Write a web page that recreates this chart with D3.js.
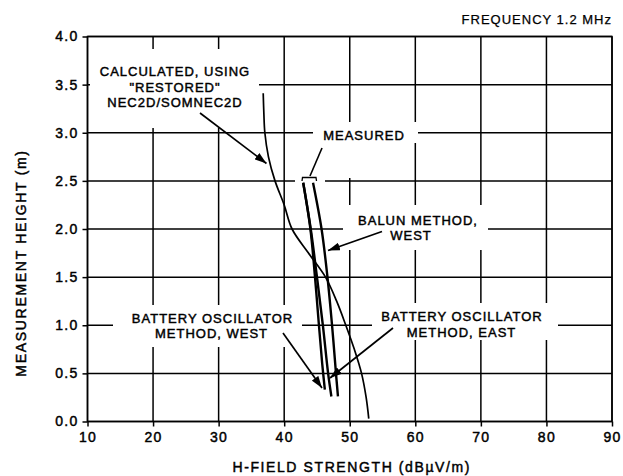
<!DOCTYPE html>
<html><head><meta charset="utf-8">
<script src="https://cdn.jsdelivr.net/npm/d3@7"></script>
<style>
body{margin:0;background:#fff;}
svg{display:block;}
text{font-family:"Liberation Sans",Arial,Helvetica,sans-serif;fill:#000;stroke:#000;stroke-width:0.45px;}
</style></head><body>
<svg id="c" width="623" height="476"></svg>
<script>
// ---- data ----
const xTicks = [10, 20, 30, 40, 50, 60, 70, 80, 90];
const yTicks = [0, 0.5, 1, 1.5, 2, 2.5, 3, 3.5, 4];
const yTickLabels = ["0.0", "0.5", "1.0", "1.5", "2.0", "2.5", "3.0", "3.5", "4.0"];

// calculated (thin line): height (m) and field (dBuV/m)
const calcHeight = [3.41, 3.2, 3.0, 2.75, 2.5, 2.25, 2.0, 1.75, 1.5, 1.25, 1.0, 0.75, 0.5, 0.25, 0.03];
const calcField  = [36.8, 36.9, 37.05, 37.6, 38.6, 40.0, 41.2, 43.7, 46.3, 48.0, 49.4, 50.7, 51.8, 52.5, 52.9];

// measured, battery oscillator method, west
const bowHeight = [2.48, 2.0, 1.5, 1.0, 0.6, 0.33];
const bowField  = [42.9, 44.0, 44.7, 45.3, 45.8, 46.2];
// measured, battery oscillator method, east
const boeHeight = [2.48, 2.0, 1.5, 1.0, 0.5, 0.26];
const boeField  = [42.9, 44.05, 45.0, 45.9, 46.7, 47.2];
// measured, balun method, west
const balHeight = [2.48, 2.0, 1.5, 1.0, 0.5, 0.26];
const balField  = [44.4, 45.7, 46.6, 47.3, 47.9, 48.2];

// ---- layout ----
const svg = d3.select("#c");
const x = d3.scaleLinear().domain([10, 90]).range([87.5, 612]);
const y = d3.scaleLinear().domain([0, 4]).range([421.5, 36.5]);
const ix = x.invert, iy = y.invert;

// grid
const grid = svg.append("g").attr("stroke", "#000").attr("stroke-width", 1.5);
grid.selectAll("line.h").data(yTicks).join("line")
  .attr("x1", x(10)).attr("x2", x(90)).attr("y1", d => y(d)).attr("y2", d => y(d));
grid.selectAll("line.v").data(xTicks).join("line")
  .attr("y1", y(0)).attr("y2", y(4)).attr("x1", d => x(d)).attr("x2", d => x(d));

// masks (label gaps in the grid)
const gaps = [
  [90, 49, 259, 128],
  [313, 122, 418, 143],
  [344, 122, 356, 178],
  [295, 174, 325, 186],
  [343, 205, 488, 250],
  [113, 305, 302, 347],
  [372, 303, 558, 340]
];
svg.append("g").selectAll("rect").data(gaps).join("rect")
  .attr("x", d => x(ix(d[0]))).attr("y", d => y(iy(d[1])))
  .attr("width", d => x(ix(d[2])) - x(ix(d[0])))
  .attr("height", d => y(iy(d[3])) - y(iy(d[1])))
  .attr("fill", "#fff");

// axes
const xAxis = d3.axisBottom(x).tickValues(xTicks).tickSize(5).tickPadding(6).tickFormat(d3.format("d"));
const yAxis = d3.axisLeft(y).tickValues(yTicks).tickSize(5).tickPadding(4).tickFormat((d, i) => yTickLabels[i]);
const gx = svg.append("g").attr("transform", `translate(0,${y(0)})`).call(xAxis);
const gy = svg.append("g").attr("transform", `translate(${x(10)},0)`).call(yAxis);
[gx, gy].forEach(g => {
  g.select(".domain").remove();
  g.selectAll(".tick line").attr("stroke", "#000").attr("stroke-width", 1.5);
  g.selectAll("text").attr("font-size", 14).style("letter-spacing", "1.3px")
   .attr("font-family", '"Liberation Sans",Arial,sans-serif').attr("fill", "#000");
});
gx.selectAll("text").attr("dy", "0.71em");

// frame
svg.append("rect").attr("x", x(10)).attr("y", y(4)).attr("width", x(90) - x(10)).attr("height", y(0) - y(4))
  .attr("fill", "none").attr("stroke", "#000").attr("stroke-width", 1.5);

// curves
const line = d3.line().curve(d3.curveCatmullRom.alpha(0.5));
function draw(hs, fs, w) {
  svg.append("path").datum(hs.map((h, i) => [x(fs[i]), y(h)]))
    .attr("d", line).attr("fill", "none").attr("stroke", "#000").attr("stroke-width", w)
    .attr("stroke-linecap", "butt");
}
draw(calcHeight, calcField, 1.7);
draw(bowHeight, bowField, 2.4);
draw(boeHeight, boeField, 2.4);
draw(balHeight, balField, 2.4);

// arrowheads
const defs = svg.append("defs");
defs.append("marker").attr("id", "ah").attr("viewBox", "0 0 12 8").attr("refX", 12).attr("refY", 4)
  .attr("markerWidth", 12).attr("markerHeight", 8).attr("markerUnits", "userSpaceOnUse").attr("orient", "auto")
  .append("path").attr("d", "M0,0 L12,4 L0,8 Z").attr("fill", "#000");

// annotation arrows
const arrows = [
  [200, 113, 266.5, 163.5],
  [382, 231.5, 328, 250.5],
  [283, 333, 322, 388],
  [393, 328, 330, 378]
];
svg.append("g").selectAll("line").data(arrows).join("line")
  .attr("x1", d => x(ix(d[0]))).attr("y1", d => y(iy(d[1])))
  .attr("x2", d => x(ix(d[2]))).attr("y2", d => y(iy(d[3])))
  .attr("stroke", "#000").attr("stroke-width", 1.7).attr("marker-end", "url(#ah)");

// measured bracket + pointer
svg.append("path")
  .attr("d", `M${x(ix(302))},${y(iy(181))} L${x(ix(302.5))},${y(iy(177.5))} L${x(ix(316))},${y(iy(177.5))} L${x(ix(316.5))},${y(iy(181))}`)
  .attr("fill", "none").attr("stroke", "#000").attr("stroke-width", 1.3);
svg.append("line").attr("x1", x(ix(310))).attr("y1", y(iy(176))).attr("x2", x(ix(322))).attr("y2", y(iy(148)))
  .attr("stroke", "#000").attr("stroke-width", 1.6);

// labels
const labels = [
  ["CALCULATED, USING", 175, 76],
  ["\"RESTORED\"", 175, 91.5],
  ["NEC2D/SOMNEC2D", 175, 107],
  ["MEASURED", 364, 140],
  ["BALUN METHOD,", 418, 225],
  ["WEST", 411, 240],
  ["BATTERY OSCILLATOR", 212.5, 323],
  ["METHOD, WEST", 211.5, 338],
  ["BATTERY OSCILLATOR", 462, 321],
  ["METHOD, EAST", 461.5, 337]
];
svg.append("g").selectAll("text").data(labels).join("text")
  .attr("x", d => x(ix(d[1]))).attr("y", d => y(iy(d[2])))
  .attr("text-anchor", "middle").attr("font-size", 13).style("letter-spacing", "1.0px")
  .text(d => d[0]);

svg.append("text").attr("x", 612).attr("y", 24).attr("text-anchor", "end")
  .attr("font-size", 13).style("letter-spacing", "1.0px").style("stroke-width", "0.25px").text("FREQUENCY 1.2 MHz");

svg.append("text").attr("x", (x(10) + x(90)) / 2 + 2).attr("y", 472)
  .attr("text-anchor", "middle").attr("font-size", 14).style("letter-spacing", "1.6px")
  .text("H-FIELD STRENGTH (dBµV/m)");

svg.append("text").attr("transform", `translate(26,${263}) rotate(-90)`)
  .attr("text-anchor", "middle").attr("font-size", 14).style("letter-spacing", "1.7px")
  .text("MEASUREMENT HEIGHT (m)");
</script>
</body></html>
